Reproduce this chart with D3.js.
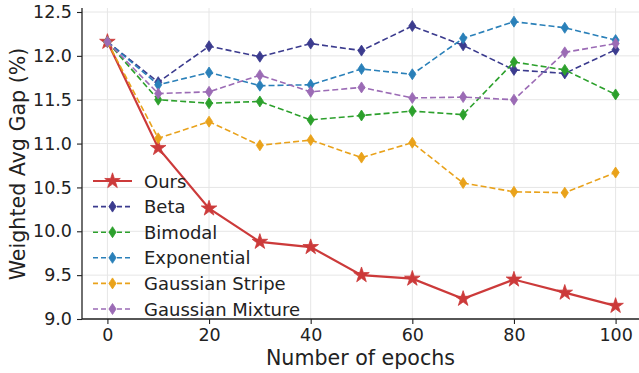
<!DOCTYPE html>
<html>
<head>
<meta charset="utf-8">
<script src="https://cdn.jsdelivr.net/npm/d3@7"></script>
<style>
  body { margin: 0; background: #fff; }
  text { font-family: "DejaVu Sans", sans-serif; fill: #222; }
</style>
</head>
<body>
<svg id="chart" width="639" height="373"></svg>
<script>
// data
const epochs = [0, 10, 20, 30, 40, 50, 60, 70, 80, 90, 100];
const ours = [12.16, 10.95, 10.26, 9.88, 9.82, 9.50, 9.46, 9.23, 9.45, 9.30, 9.15];
const beta = [12.16, 11.70, 12.11, 11.99, 12.14, 12.06, 12.34, 12.12, 11.84, 11.80, 12.07];
const bimodal = [12.16, 11.50, 11.46, 11.48, 11.27, 11.32, 11.37, 11.33, 11.93, 11.84, 11.56];
const exponential = [12.16, 11.67, 11.81, 11.66, 11.67, 11.85, 11.79, 12.20, 12.39, 12.32, 12.18];
const gaussStripe = [12.16, 11.06, 11.25, 10.98, 11.04, 10.84, 11.01, 10.55, 10.45, 10.44, 10.67];
const gaussMixture = [12.16, 11.57, 11.59, 11.78, 11.59, 11.64, 11.52, 11.53, 11.50, 12.04, 12.14];

const xTicks = [0, 20, 40, 60, 80, 100];
const yTicks = [9.0, 9.5, 10.0, 10.5, 11.0, 11.5, 12.0, 12.5];

const series = [
  { name: "Ours", values: ours, color: "#cc3a3a", dashed: false, marker: "star" },
  { name: "Beta", values: beta, color: "#3b3b8e", dashed: true, marker: "diamond" },
  { name: "Bimodal", values: bimodal, color: "#2ca02c", dashed: true, marker: "diamond" },
  { name: "Exponential", values: exponential, color: "#2a80b9", dashed: true, marker: "diamond" },
  { name: "Gaussian Stripe", values: gaussStripe, color: "#e9a21b", dashed: true, marker: "diamond" },
  { name: "Gaussian Mixture", values: gaussMixture, color: "#9b6bb5", dashed: true, marker: "diamond" }
];

const svg = d3.select("#chart");
const margin = { left: 82, top: 8 };
const width = 639;

const x = d3.scaleLinear().domain([-5, 105]).range([margin.left, 641]);
const y = d3.scaleLinear().domain([9.0, 12.5]).range([319, 12]);

// grid
const grid = svg.append("g");
grid.selectAll(".gx").data(xTicks).enter().append("line")
  .attr("x1", d => x(d)).attr("x2", d => x(d))
  .attr("y1", margin.top).attr("y2", 319)
  .attr("stroke", "#e6e6e6").attr("stroke-width", 1);
grid.selectAll(".gy").data(yTicks).enter().append("line")
  .attr("x1", margin.left).attr("x2", width)
  .attr("y1", d => y(d)).attr("y2", d => y(d))
  .attr("stroke", "#e6e6e6").attr("stroke-width", 1);

// axes
const xAxis = svg.append("g")
  .attr("transform", `translate(0,319)`)
  .call(d3.axisBottom(x).tickValues(xTicks).tickSize(5).tickPadding(5).tickFormat(d3.format("d")));
const yAxis = svg.append("g")
  .attr("transform", `translate(${margin.left},0)`)
  .call(d3.axisLeft(y).tickValues(yTicks).tickSize(5).tickPadding(5).tickFormat(d3.format(".1f")));

[xAxis, yAxis].forEach(a => {
  a.selectAll("text").style("font-size", "17.5px").attr("fill", "#222");
  a.selectAll("line").attr("stroke", "#222").attr("stroke-width", 1.1);
  a.select(".domain").attr("stroke", "#222").attr("stroke-width", 1.3);
});
xAxis.select(".domain").attr("d", `M${margin.left},0H${width}`);
yAxis.select(".domain").attr("d", `M0,${margin.top}V319`);

svg.append("text")
  .attr("x", (margin.left + width) / 2).attr("y", 365)
  .attr("text-anchor", "middle").style("font-size", "20.6px")
  .text("Number of epochs");
svg.append("text")
  .attr("transform", `translate(25,164) rotate(-90)`)
  .attr("text-anchor", "middle").style("font-size", "20.6px")
  .text("Weighted Avg Gap (%)");

const line = d3.line().x((d, i) => x(epochs[i])).y(d => y(d));
const star = d3.symbol().type(d3.symbolStar).size(75);
const diamond = "M0,-5.5L3.6,0L0,5.5L-3.6,0Z";

function drawMarker(g, s) {
  g.attr("d", s.marker === "star" ? star() : diamond)
    .attr("fill", s.color).attr("stroke", s.color).attr("stroke-width", 0.8);
}

// series in legend order, so later ones sit on top
const plot = svg.append("g");
series.forEach(s => {
  const g = plot.append("g");
  g.append("path").datum(s.values)
    .attr("d", line).attr("fill", "none")
    .attr("stroke", s.color).attr("stroke-width", s.dashed ? 1.6 : 2.2)
    .attr("stroke-dasharray", s.dashed ? "6,3" : null);
  g.selectAll("path.m").data(s.values).enter().append("path")
    .attr("class", "m")
    .attr("transform", (d, i) => `translate(${x(epochs[i])},${y(d)})`)
    .each(function() { drawMarker(d3.select(this), s); });
});

// legend (no frame)
const legend = svg.append("g").attr("transform", "translate(93,181)");
series.forEach((s, i) => {
  const row = legend.append("g").attr("transform", `translate(0,${i * 25.6})`);
  row.append("line").attr("x1", 0).attr("x2", 39).attr("y1", 0).attr("y2", 0)
    .attr("stroke", s.color).attr("stroke-width", s.dashed ? 1.6 : 2.2)
    .attr("stroke-dasharray", s.dashed ? "5,3" : null);
  row.append("path").attr("transform", "translate(19.5,0)")
    .each(function() { drawMarker(d3.select(this), s); });
  row.append("text").attr("x", 51).attr("y", 6.5).style("font-size", "18px").text(s.name);
});
</script>
</body>
</html>
